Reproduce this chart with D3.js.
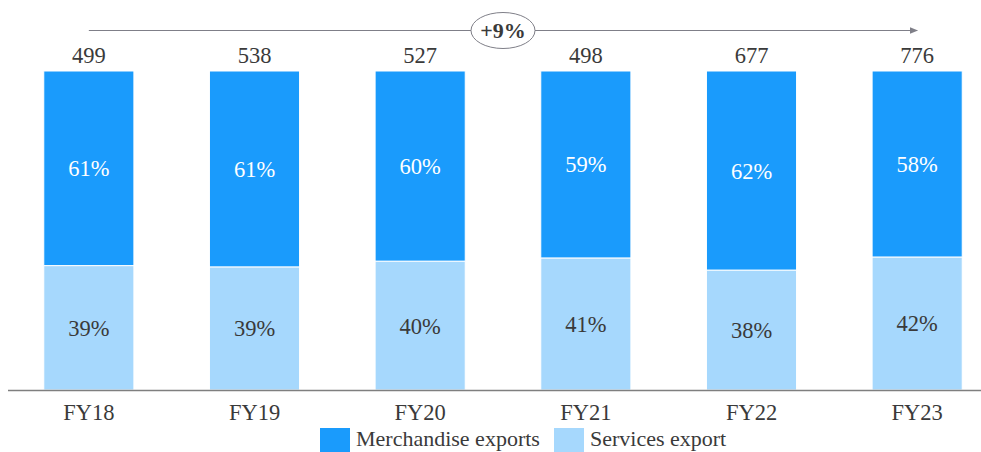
<!DOCTYPE html>
<html>
<head>
<meta charset="utf-8">
<script src="https://cdn.jsdelivr.net/npm/d3@7"></script>
<style>
  body { margin: 0; background: #fff; }
  text { font-family: "Liberation Serif", "Times New Roman", serif; }
</style>
</head>
<body>
<div id="chart"></div>
<script>
// data
var years = ["FY18", "FY19", "FY20", "FY21", "FY22", "FY23"];
var totals = [499, 538, 527, 498, 677, 776];
var merchandise = [61.0, 61.4, 59.6, 58.6, 62.4, 58.3];
var services = [39.0, 38.6, 40.4, 41.4, 37.6, 41.7];
var growthLabel = "+9%";

var width = 981, height = 452;

var svg = d3.select("#chart")
  .append("svg")
    .attr("width", width)
    .attr("height", height);

var x = d3.scaleBand()
  .domain(years)
  .range([6, 1000])
  .paddingInner(0.456)
  .paddingOuter(0.228);

var y = d3.scaleLinear()
  .domain([0, 100])
  .range([390, 71]);

var rows = years.map(function(d, i) {
  return {year: d, total: totals[i], services: services[i], merchandise: merchandise[i]};
});

// services at the bottom
svg.selectAll(".svc")
  .data(rows)
  .enter().append("rect")
    .attr("x", function(d) { return x(d.year); })
    .attr("y", function(d) { return y(d.services); })
    .attr("width", x.bandwidth())
    .attr("height", function(d) { return y(0) - y(d.services); })
    .attr("fill", "#a6d8fd")
    .attr("stroke", "#fff")
    .attr("stroke-width", 1);

// merchandise on top
svg.selectAll(".mer")
  .data(rows)
  .enter().append("rect")
    .attr("x", function(d) { return x(d.year); })
    .attr("y", y(100))
    .attr("width", x.bandwidth())
    .attr("height", function(d) { return y(d.services) - y(100); })
    .attr("fill", "#1a9bfc")
    .attr("stroke", "#fff")
    .attr("stroke-width", 1);

// percent labels
svg.selectAll(".merLab")
  .data(rows)
  .enter().append("text")
    .attr("x", function(d) { return x(d.year) + x.bandwidth() / 2; })
    .attr("y", function(d) { return (y(100) + y(d.services)) / 2 + 8; })
    .attr("text-anchor", "middle")
    .attr("fill", "#fff")
    .style("font-size", "22.5px")
    .text(function(d) { return Math.round(d.merchandise) + "%"; });

svg.selectAll(".svcLab")
  .data(rows)
  .enter().append("text")
    .attr("x", function(d) { return x(d.year) + x.bandwidth() / 2; })
    .attr("y", function(d) { return (y(0) + y(d.services)) / 2 + 8; })
    .attr("text-anchor", "middle")
    .attr("fill", "#3a3a3a")
    .style("font-size", "22.5px")
    .text(function(d) { return Math.round(d.services) + "%"; });

// totals
svg.selectAll(".tot")
  .data(rows)
  .enter().append("text")
    .attr("x", function(d) { return x(d.year) + x.bandwidth() / 2; })
    .attr("y", 63)
    .attr("text-anchor", "middle")
    .attr("fill", "#3a3a3a")
    .style("font-size", "22.5px")
    .text(function(d) { return d.total; });

// x axis
var xAxis = svg.append("g")
  .attr("transform", "translate(0,390)")
  .call(d3.axisBottom(x).tickSize(0).tickPadding(14));
xAxis.select(".domain").remove();
xAxis.selectAll("text")
  .attr("fill", "#3a3a3a")
  .style("font-size", "22.5px")
  .style("font-family", "Liberation Serif, serif");
svg.append("line")
  .attr("x1", 8).attr("x2", 981)
  .attr("y1", 390.5).attr("y2", 390.5)
  .attr("stroke", "#7f7f7f")
  .attr("stroke-width", 1.5);

// growth arrow
var first = x(years[0]) + x.bandwidth() / 2;
var last = x(years[years.length - 1]) + x.bandwidth() / 2;
svg.append("defs").append("marker")
    .attr("id", "arr")
    .attr("viewBox", "0 0 10 10")
    .attr("refX", 9).attr("refY", 5)
    .attr("markerWidth", 7).attr("markerHeight", 7)
    .attr("orient", "auto")
  .append("path")
    .attr("d", "M0,1 L10,5 L0,9 Z")
    .attr("fill", "#7f7f88");
svg.append("line")
  .attr("x1", first).attr("x2", last)
  .attr("y1", 30.5).attr("y2", 30.5)
  .attr("stroke", "#7f7f88")
  .attr("stroke-width", 1.2)
  .attr("marker-end", "url(#arr)");

var cx = (x(years[2]) + x.bandwidth() + x(years[3])) / 2;
svg.append("ellipse")
  .attr("cx", cx).attr("cy", 30.5)
  .attr("rx", 32).attr("ry", 18)
  .attr("fill", "#fff")
  .attr("stroke", "#7f7f88")
  .attr("stroke-width", 1);
svg.append("text")
  .attr("x", cx).attr("y", 38)
  .attr("text-anchor", "middle")
  .attr("fill", "#3a3a3a")
  .style("font-size", "22px")
  .style("font-weight", "bold")
  .text(growthLabel);

// legend
var legend = [
  {name: "Merchandise exports", color: "#1a9bfc", x: 320},
  {name: "Services export", color: "#a6d8fd", x: 554}
];
var lg = svg.selectAll(".leg")
  .data(legend)
  .enter().append("g")
    .attr("transform", function(d) { return "translate(" + d.x + ",428)"; });
lg.append("rect")
  .attr("width", 30).attr("height", 24)
  .attr("fill", function(d) { return d.color; });
lg.append("text")
  .attr("x", 36).attr("y", 18)
  .attr("fill", "#3a3a3a")
  .style("font-size", "22px")
  .text(function(d) { return d.name; });
</script>
</body>
</html>
